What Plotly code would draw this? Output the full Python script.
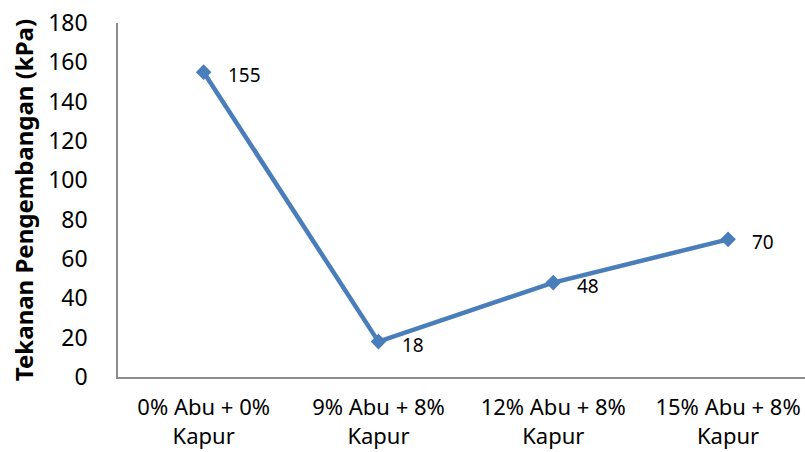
import plotly.graph_objects as go

categories = ["0% Abu + 0%<br>Kapur", "9% Abu + 8%<br>Kapur", "12% Abu + 8%<br>Kapur", "15% Abu + 8%<br>Kapur"]
values = [155, 18, 48, 70]
labels = ["155", "18", "48", "70"]
y_ticks = [0, 20, 40, 60, 80, 100, 120, 140, 160, 180]

color = "#4A7EBB"
font_family = "Noto Sans, Liberation Sans, sans-serif"

fig = go.Figure()
fig.add_trace(go.Scatter(
    x=categories, y=values, mode="lines+markers",
    line=dict(color=color, width=4.5),
    marker=dict(symbol="diamond", size=12, color=color),
    showlegend=False, hoverinfo="skip",
))

for c, v, t in zip(categories, values, labels):
    fig.add_annotation(x=c, y=v, text=t, showarrow=False, xanchor="left",
                       yanchor="middle", xshift=22, yshift=-3,
                       font=dict(family=font_family, size=19, color="#000000"))

fig.update_layout(
    width=805, height=452,
    margin=dict(l=118, r=0, t=23, b=75),
    paper_bgcolor="white", plot_bgcolor="white",
    font=dict(family=font_family, color="#000000"),
    xaxis=dict(
        type="category", range=[-0.49, 3.44],
        showgrid=False, zeroline=False, showline=True,
        linecolor="#8C8C8C", linewidth=1.5, ticks="",
        tickfont=dict(size=22), ticklabelstandoff=10,
        automargin=False, fixedrange=True,
    ),
    yaxis=dict(
        range=[0, 180], tickvals=y_ticks,
        showgrid=False, zeroline=False, showline=True,
        linecolor="#8C8C8C", linewidth=1.5, ticks="",
        tickfont=dict(size=23), ticklabelstandoff=24,
        title=dict(text="<b>Tekanan Pengembangan (kPa)</b>", font=dict(size=24), standoff=8),
        automargin=False, fixedrange=True,
    ),
)

fig.write_html("out.html", config={"displayModeBar": False},
               post_script="document.body.style.margin='0';document.body.style.overflow='hidden';")
